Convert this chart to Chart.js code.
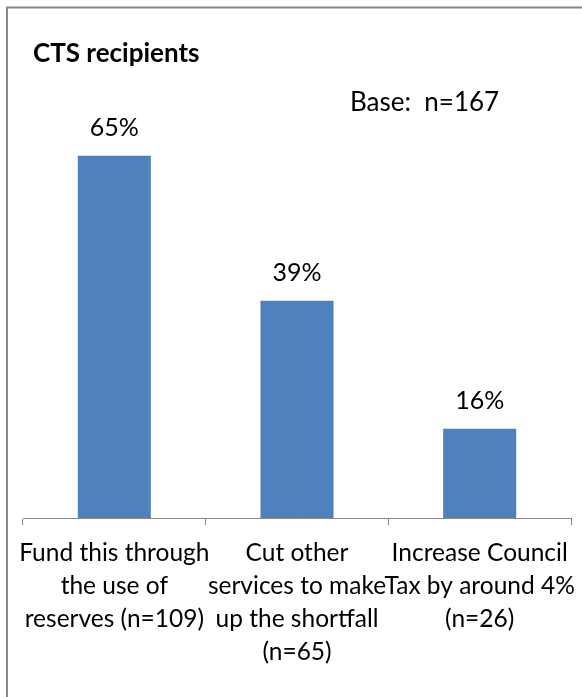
<!DOCTYPE html>
<html>
<head>
<meta charset="utf-8">
<script src="https://cdn.jsdelivr.net/npm/chart.js@4/dist/chart.umd.min.js"></script>
<style>
  html, body { margin: 0; padding: 0; background: #ffffff; }
  #wrap { width: 582px; height: 697px; }
</style>
</head>
<body>
<div id="wrap"><canvas id="c" width="582" height="697"></canvas></div>
<script>
// Survey answers among CTS recipients (share choosing each option)
const categories = [
  ["Fund this through", "the use of", "reserves (n=109)"],
  ["Cut other", "services to make", "up the shortfall", "(n=65)"],
  ["Increase Council", "Tax by around 4%", "(n=26)"]
];
const percentages = [65, 39, 16];
const chartTitle = "CTS recipients";
const baseNote = "Base:  n=167";

const FONT = "Lato, 'Open Sans', sans-serif";

// Frame, heading and base note
const framePlugin = {
  id: 'frame',
  beforeDraw(chart) {
    const ctx = chart.ctx;
    ctx.save();
    ctx.fillStyle = '#ffffff';
    ctx.fillRect(0, 0, chart.width, chart.height);
    ctx.strokeStyle = '#878787';
    ctx.lineWidth = 2;
    ctx.beginPath();
    ctx.moveTo(7, chart.height + 5);
    ctx.lineTo(7, 7.5);
    ctx.lineTo(chart.width + 5, 7.5);
    ctx.stroke();
    ctx.restore();
  },
  afterDraw(chart) {
    const ctx = chart.ctx;
    ctx.save();
    ctx.fillStyle = '#000000';
    ctx.textBaseline = 'alphabetic';
    ctx.textAlign = 'left';
    ctx.font = "bold 26px " + FONT;
    ctx.fillText(chartTitle, 33, 62);
    ctx.font = "26px " + FONT;
    ctx.fillText(baseNote, 350, 111);
    ctx.restore();
  }
};

// Value labels above each bar
const valueLabels = {
  id: 'valueLabels',
  afterDatasetsDraw(chart) {
    const ctx = chart.ctx;
    const meta = chart.getDatasetMeta(0);
    ctx.save();
    ctx.fillStyle = '#000000';
    ctx.font = "25px " + FONT;
    ctx.textAlign = 'center';
    ctx.textBaseline = 'alphabetic';
    meta.data.forEach((bar, i) => {
      ctx.fillText(chart.data.datasets[0].data[i] + '%', bar.x, bar.y - 20);
    });
    ctx.restore();
  }
};

new Chart(document.getElementById('c'), {
  type: 'bar',
  data: {
    labels: categories,
    datasets: [{
      data: percentages,
      backgroundColor: '#4F81BD',
      borderWidth: 0,
      barPercentage: 0.4,
      categoryPercentage: 1.0
    }]
  },
  options: {
    responsive: false,
    animation: false,
    events: [],
    layout: { padding: { left: 23, right: 11, top: 128, bottom: 0 } },
    plugins: {
      legend: { display: false },
      title: { display: false },
      tooltip: { enabled: false }
    },
    scales: {
      y: {
        display: false,
        min: 0,
        max: 70
      },
      x: {
        offset: true,
        grid: {
          offset: true,
          drawOnChartArea: false,
          drawTicks: true,
          tickLength: 7,
          color: '#878787',
          lineWidth: 1
        },
        border: { display: true, color: '#878787', width: 1 },
        ticks: {
          color: '#000000',
          font: { family: FONT, size: 24.5, lineHeight: '33px' },
          padding: 12,
          maxRotation: 0,
          minRotation: 0,
          autoSkip: false
        },
        afterFit(scale) {
          // axis band below the plot, and no extra side room for wide labels
          scale.height = 179;
          scale.paddingLeft = 0;
          scale.paddingRight = 0;
        }
      }
    }
  },
  plugins: [framePlugin, valueLabels]
});
</script>
</body>
</html>
